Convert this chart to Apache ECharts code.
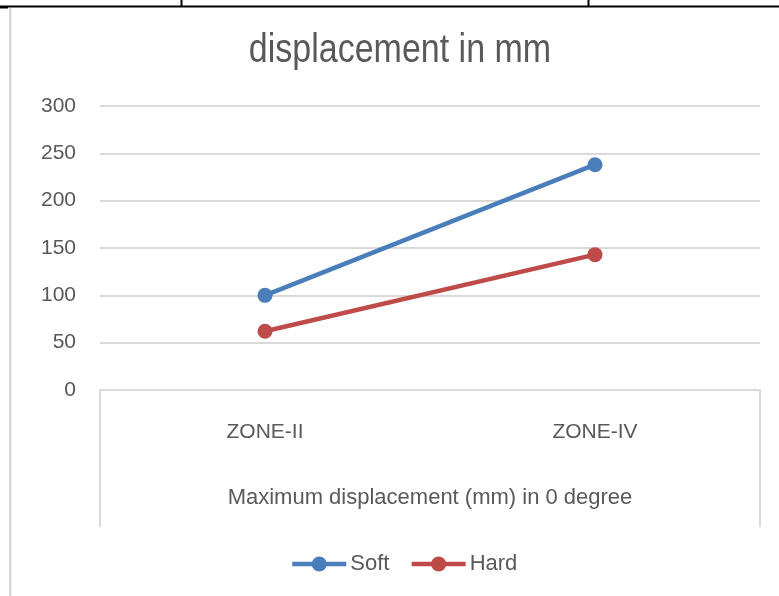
<!DOCTYPE html>
<html>
<head>
<meta charset="utf-8">
<script src="https://cdn.jsdelivr.net/npm/echarts@6/dist/echarts.min.js"></script>
<style>html,body{margin:0;padding:0;background:#fff;}#c{width:779px;height:596px;}</style>
</head>
<body>
<div id="c"></div>
<script>
var categories = ['ZONE-II', 'ZONE-IV'];
var softValues = [100, 238];
var hardValues = [62, 143];
var seriesNames = ['Soft', 'Hard'];
var yTicks = [0, 50, 100, 150, 200, 250, 300];
var titleText = 'displacement in mm';
var xAxisName = 'Maximum displacement (mm) in 0 degree';

var chart = echarts.init(document.getElementById('c'));
var gridLeft = 100, gridRight = 19, gridTop = 106, gridBottom = 206;
var txt = '#595959', gl = '#d9d9d9';
var font = 'Liberation Sans, Arial, sans-serif';
var option = {
  backgroundColor: '#fff',
  animation: false,
  legend: {
    data: seriesNames, left: 285, top: 548, itemWidth: 54, itemHeight: 19, itemGap: 20,
    lineStyle: { width: 4.5 },
    textStyle: { fontFamily: font, fontSize: 22, color: txt, padding: [0, 0, 0, -1] }
  },
  grid: { left: gridLeft, right: gridRight, top: gridTop, bottom: gridBottom },
  xAxis: {
    type: 'category', data: categories, boundaryGap: true,
    axisLine: { lineStyle: { color: gl, width: 2 } },
    axisTick: { show: false },
    axisLabel: { color: txt, fontFamily: font, fontSize: 21, margin: 32 },
    name: xAxisName, nameLocation: 'middle', nameGap: 97,
    nameTextStyle: { color: txt, fontFamily: font, fontSize: 22 }
  },
  yAxis: {
    type: 'value', min: yTicks[0], max: yTicks[yTicks.length - 1], interval: 50,
    axisLine: { show: false }, axisTick: { show: false },
    axisLabel: { color: txt, fontFamily: font, fontSize: 21, margin: 24 },
    splitLine: { lineStyle: { color: gl, width: 2 } }
  },
  series: [
    { name: seriesNames[0], type: 'line', data: softValues, symbol: 'circle', symbolSize: 15,
      lineStyle: { color: '#4a7ebb', width: 4.5 }, itemStyle: { color: '#4a7ebb' } },
    { name: seriesNames[1], type: 'line', data: hardValues, symbol: 'circle', symbolSize: 15,
      lineStyle: { color: '#be4b48', width: 4.5 }, itemStyle: { color: '#be4b48' } }
  ],
  graphic: [
    { type: 'text', x: 400, y: 51, scaleX: 0.85, scaleY: 1, originX: 0,
      style: { text: titleText, fontFamily: font, fontSize: 40, fill: txt, align: 'center', verticalAlign: 'middle' }, silent: true },
    { type: 'rect', shape: { x: 0, y: 5.5, width: 779, height: 2 }, style: { fill: '#000' }, silent: true },
    { type: 'rect', shape: { x: 0, y: 7, width: 8, height: 1.5 }, style: { fill: '#000' }, silent: true },
    { type: 'rect', shape: { x: 180.5, y: 0, width: 2, height: 7 }, style: { fill: '#000' }, silent: true },
    { type: 'rect', shape: { x: 587.5, y: 0, width: 2, height: 7 }, style: { fill: '#000' }, silent: true },
    { type: 'rect', shape: { x: 9, y: 8, width: 2.5, height: 588 }, style: { fill: gl }, silent: true },
    { type: 'line', shape: { x1: gridLeft, y1: 596 - gridBottom, x2: gridLeft, y2: 527 }, style: { stroke: gl, lineWidth: 2 }, silent: true },
    { type: 'line', shape: { x1: 779 - gridRight, y1: 596 - gridBottom, x2: 779 - gridRight, y2: 527 }, style: { stroke: gl, lineWidth: 2 }, silent: true }
  ]
};
chart.setOption(option);
</script>
</body>
</html>
